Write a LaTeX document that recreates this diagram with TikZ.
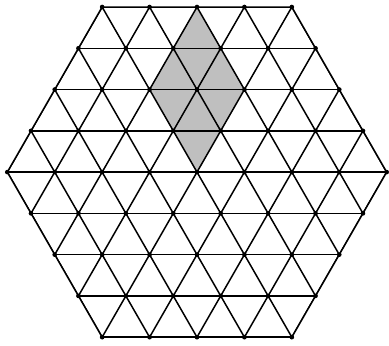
\documentclass[tikz,border=0pt]{standalone}
\usetikzlibrary{calc}
\tikzset{
  gridline/.style={line width=0.9pt,black,line cap=round},
  rhomb/.style={fill=black!25},
  vtx/.style={circle,fill=black,inner sep=0pt,minimum size=2.8pt},
}
\begin{document}
\begin{tikzpicture}[y=0.8703cm]
  \useasboundingbox (-0.154,-4.194) rectangle (8.049,4.170);
  % shaded rhombus
  \fill[rhomb] (4,4) -- (5,2) -- (4,0) -- (3,2) -- cycle;
  % triangular grid inside the hexagon
  \begin{scope}
    \clip (0,0) -- (2,4) -- (6,4) -- (8,0) -- (6,-4) -- (2,-4) -- cycle;
    \foreach \j in {-4,...,4}
      \draw[gridline] (0,\j) -- (8,\j);
    \foreach \c in {0,...,8}{
      \draw[gridline] ($(\c,0)+(-2,-4)$) -- ($(\c,0)+(2,4)$);
      \draw[gridline] ($(\c,0)+(2,-4)$) -- ($(\c,0)+(-2,4)$);
    }
  \end{scope}
  \draw[gridline,line join=round] (0,0) -- (2,4) -- (6,4) -- (8,0) -- (6,-4) -- (2,-4) -- cycle;
  % lattice points
  \foreach \j in {-4,...,4}{
    \pgfmathtruncatemacro{\n}{8-abs(\j)}
    \foreach \k in {0,...,\n}{
      \pgfmathsetmacro{\x}{abs(\j)/2+\k}
      \node[vtx] (v-\k-\j) at (\x,\j) {};
    }
  }
\end{tikzpicture}
\end{document}
